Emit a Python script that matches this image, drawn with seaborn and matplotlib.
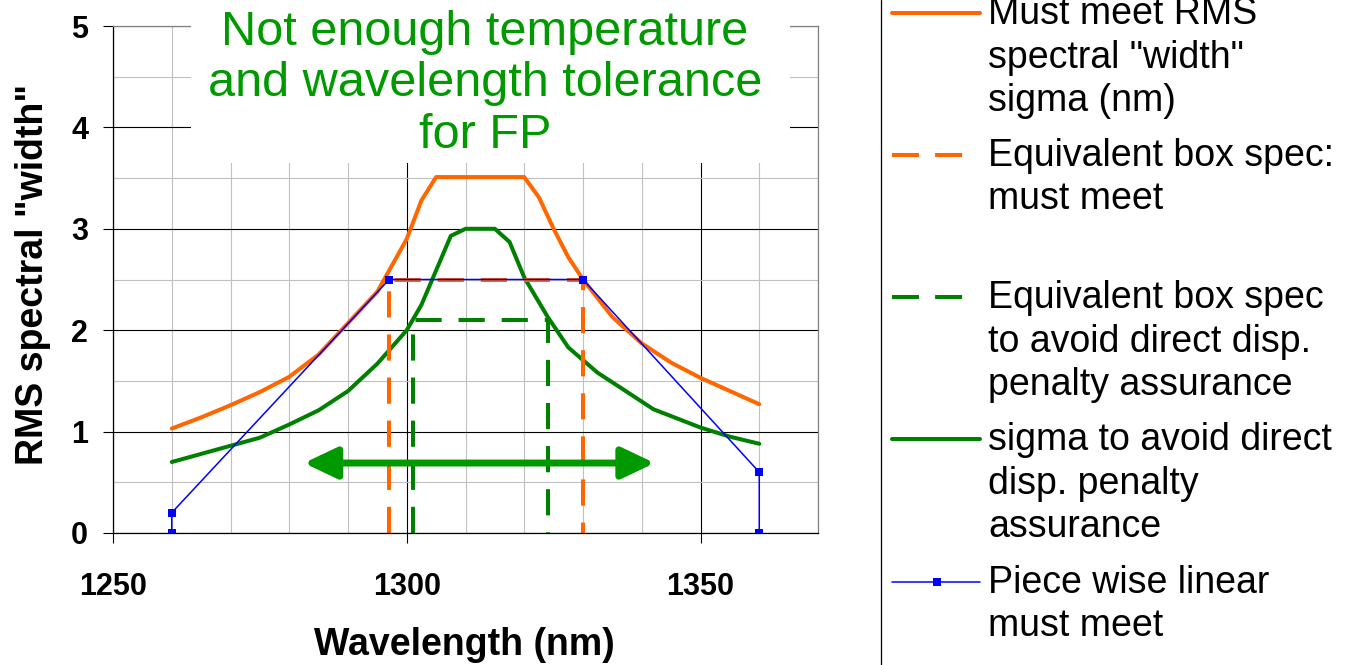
import matplotlib
matplotlib.use("Agg")
import matplotlib.pyplot as plt
import seaborn as sns
from matplotlib.lines import Line2D
from matplotlib.patches import Rectangle
from matplotlib.ticker import MultipleLocator

# Must meet RMS spectral width (orange solid)
rms_wl = [1260, 1265, 1270, 1275, 1280, 1285, 1290, 1295, 1300, 1302.5, 1305,
          1310, 1315, 1320, 1322.5, 1325, 1327.5, 1330, 1335, 1340, 1345, 1350, 1355, 1360]
rms_sigma = [1.03, 1.14, 1.26, 1.39, 1.54, 1.76, 2.07, 2.38, 2.90, 3.28, 3.51,
             3.51, 3.51, 3.51, 3.31, 3.00, 2.72, 2.50, 2.13, 1.87, 1.68, 1.53, 1.40, 1.27]

# sigma to avoid direct dispersion penalty (green solid)
disp_wl = [1260, 1265, 1270, 1275, 1280, 1285, 1290, 1295, 1300, 1302.5, 1307.5,
           1310, 1315, 1317.5, 1320, 1324, 1327.5, 1332.5, 1337, 1342, 1350, 1355, 1360]
disp_sigma = [0.70, 0.78, 0.86, 0.94, 1.07, 1.21, 1.40, 1.67, 2.00, 2.25, 2.93,
              3.00, 3.00, 2.87, 2.52, 2.13, 1.83, 1.58, 1.41, 1.22, 1.04, 0.95, 0.88]

# Equivalent box specs
box_must_wl = [1297, 1297, 1330, 1330]
box_must_sigma = [0, 2.5, 2.5, 0]
box_disp_wl = [1301, 1301, 1324, 1324]
box_disp_sigma = [0, 2.1, 2.1, 0]

# Piece wise linear must meet
pwl_wl = [1260, 1260, 1297, 1330, 1360, 1360]
pwl_sigma = [0, 0.2, 2.5, 2.5, 0.6, 0]

# Tolerance arrow span
arrow_wl = [1282.5, 1342.2]
arrow_sigma = 0.69

title_lines = ["Not enough temperature", "and wavelength tolerance", "for FP"]

legend_entries = [
    (["Must meet RMS", 'spectral "width"', "sigma (nm)"], "#FF6600", "-", None),
    (["Equivalent box spec:", "must meet"], "#FF6600", "--", None),
    (["Equivalent box spec", "to avoid direct disp.", "penalty assurance"], "#008000", "--", None),
    (["sigma to avoid direct", "disp. penalty", "assurance"], "#008000", "-", None),
    (["Piece wise linear", "must meet"], "#0000FF", "-", "s"),
]

ORANGE = "#FF6600"
GREEN = "#008000"
BRIGHT_GREEN = "#009900"
BLUE = "#0000FF"


def main():
    sns.set_theme(style="white")
    plt.rcParams["font.family"] = ["Liberation Sans", "DejaVu Sans"]

    W, H = 1347, 665
    fig = plt.figure(figsize=(W / 100, H / 100), dpi=100)
    ax = fig.add_axes([113 / W, 1 - 533 / H, 705 / W, 507 / H])

    dash = (0, (6.5, 4.2))
    sns.lineplot(x=rms_wl, y=rms_sigma, color=ORANGE, linewidth=2.9, ax=ax,
                 estimator=None, sort=False)
    sns.lineplot(x=disp_wl, y=disp_sigma, color=GREEN, linewidth=2.9, ax=ax,
                 estimator=None, sort=False)
    sns.lineplot(x=box_must_wl, y=box_must_sigma, color=ORANGE, linewidth=2.9,
                 linestyle=dash, ax=ax, estimator=None, sort=False)
    sns.lineplot(x=box_disp_wl, y=box_disp_sigma, color=GREEN, linewidth=2.9,
                 linestyle=dash, ax=ax, estimator=None, sort=False)
    sns.lineplot(x=pwl_wl, y=pwl_sigma, color=BLUE, linewidth=1.1, marker="s",
                 markersize=6, markeredgewidth=0, ax=ax, estimator=None, sort=False)

    ax.annotate("", xy=(arrow_wl[0], arrow_sigma), xytext=(arrow_wl[1], arrow_sigma),
                arrowprops=dict(arrowstyle="<|-|>,head_length=2.0,head_width=0.95",
                                mutation_scale=10, color=BRIGHT_GREEN, lw=5,
                                shrinkA=0, shrinkB=0))

    ax.set_xlim(1250, 1370)
    ax.set_ylim(0, 5)
    ax.set_xticks([1250, 1300, 1350])
    ax.set_yticks([0, 1, 2, 3, 4, 5])
    ax.xaxis.set_minor_locator(MultipleLocator(10))
    ax.yaxis.set_minor_locator(MultipleLocator(0.5))
    ax.set_axisbelow(True)
    ax.grid(which="major", color="black", linewidth=0.8)
    ax.grid(which="minor", color="#C0C0C0", linewidth=0.8)
    ax.tick_params(which="major", direction="out", length=7, width=0.8,
                   color="black", labelcolor="black", labelsize=22,
                   bottom=True, left=True)
    ax.tick_params(axis="y", pad=11)
    ax.tick_params(axis="x", pad=21)
    ax.tick_params(which="minor", length=0)
    for lab in ax.get_xticklabels() + ax.get_yticklabels():
        lab.set_fontweight("bold")

    for side in ["left", "bottom"]:
        ax.spines[side].set_color("black")
        ax.spines[side].set_linewidth(0.9)
    for side in ["top", "right"]:
        ax.spines[side].set_color("#808080")
        ax.spines[side].set_linewidth(0.9)

    ax.set_xlabel("Wavelength (nm)", fontsize=27, fontweight="bold", color="black")
    ax.set_ylabel('RMS spectral "width"', fontsize=27, fontweight="bold", color="black")
    ax.xaxis.set_label_coords(0.499, -0.185)
    ax.yaxis.set_label_coords(-0.088, 0.509)

    # white box behind the annotation text
    ax.add_patch(Rectangle((1263.3, 3.65), 101.9, 2.0, facecolor="white",
                           edgecolor="none", zorder=2.6, clip_on=False))
    for i, line in enumerate(title_lines):
        fig.text(485 / W, 1 - (45 + 51.5 * i) / H, line, fontsize=35,
                 color=BRIGHT_GREEN, ha="center", va="baseline", zorder=5)

    # legend (box cut off at the figure edge, as in the source slide)
    fig.add_artist(Line2D([881 / W, 881 / W], [0, 1], color="black", linewidth=0.9))
    first_y = [13, 155, 297, 439, 582]
    for (lines, color, ls, marker), hy in zip(legend_entries, first_y):
        if ls == "--":
            lstyle = (0, (6.7, 4))
            x0, x1 = 892 / W, 964 / W
        else:
            lstyle = "-"
            x0, x1 = 892 / W, 980 / W
        lw = 1.1 if marker else 2.9
        fig.add_artist(Line2D([x0, x1], [1 - hy / H, 1 - hy / H], color=color,
                              linewidth=lw, linestyle=lstyle))
        if marker:
            fig.add_artist(Line2D([937 / W], [1 - hy / H], color=color, marker=marker,
                                  markersize=6, markeredgewidth=0, linestyle="none"))
        for j, text in enumerate(lines):
            fig.text(988 / W, 1 - (hy + 11 + 43.5 * j) / H, text, fontsize=27,
                     color="black", ha="left", va="baseline")

    fig.savefig("out.png", dpi=100)
    plt.close(fig)


if __name__ == "__main__":
    main()
